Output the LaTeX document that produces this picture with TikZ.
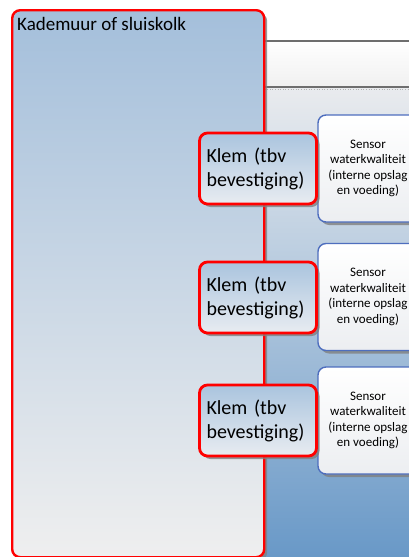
\documentclass[tikz,border=0pt]{standalone}
\usepackage{fontspec}
\setmainfont{Carlito}
\usetikzlibrary{shadows}

\definecolor{kadetop}{RGB}{164,191,219}
\definecolor{kadebot}{RGB}{239,239,239}
\definecolor{watertop}{RGB}{233,235,238}
\definecolor{waterbot}{RGB}{104,152,199}
\definecolor{striplow}{RGB}{240,240,240}
\definecolor{klemtop}{RGB}{170,196,222}
\definecolor{klembot}{RGB}{232,236,241}
\definecolor{sensorline}{RGB}{78,110,190}
\definecolor{sensorbot}{RGB}{236,238,241}
\definecolor{rimgray}{RGB}{110,110,110}
\definecolor{shadowgray}{RGB}{128,128,128}

\tikzset{
  boxshadow/.style={general shadow={fill=shadowgray, opacity=0.8,
      shadow xshift=3pt, shadow yshift=-3pt}},
  kadebox/.style={draw=red, line width=2.4pt, rounded corners=8pt,
      top color=kadetop, bottom color=kadebot, boxshadow,
      minimum width=252pt, minimum height=547pt, inner sep=0pt},
  klembox/.style={draw=red, line width=2.8pt, rounded corners=8pt,
      top color=klemtop, bottom color=klembot, boxshadow,
      text width=103pt, inner xsep=7pt, inner ysep=0pt,
      minimum height=71pt, align=left,
      font=\fontsize{20}{24}\selectfont},
  sensorbox/.style={draw=sensorline, line width=1.4pt, rounded corners=8pt,
      top color=white, bottom color=sensorbot, boxshadow,
      minimum width=100pt, minimum height=107pt, align=center,
      inner sep=0pt, font=\fontsize{13}{15.5}\selectfont},
  rimline/.style={draw=rimgray, line width=1.2pt},
}

\begin{document}
\begin{tikzpicture}[x=1pt, y=-1pt]
\useasboundingbox (0,0) rectangle (409,557);
\clip (0,0) rectangle (409,557);

% water panel to the right of the quay wall
\path[top color=watertop, bottom color=waterbot] (262,88) rectangle (420,560);
\path[top color=white, bottom color=striplow] (262,41) rectangle (420,87);
\draw[rimline] (262,41) -- (420,41);
\draw[rimline] (262,87) -- (420,87);
\draw[gray!60, line width=0.6pt, dotted] (262,89.5) -- (420,89.5);

% quay wall / lock chamber
\node[kadebox, anchor=north west] (kade) at (11,9) {};
\node[anchor=base west, inner sep=0pt, font=\fontsize{19}{23}\selectfont]
  (kadetitle) at (17,30) {Kademuur of sluiskolk};

% sensors
\node[sensorbox] (sensor1) at (368,168.5) {Sensor\\waterkwaliteit\\(interne opslag\\en voeding)};
\node[sensorbox] (sensor2) at (368,297) {Sensor\\waterkwaliteit\\(interne opslag\\en voeding)};
\node[sensorbox] (sensor3) at (368,420.5) {Sensor\\waterkwaliteit\\(interne opslag\\en voeding)};

% clamps on the wall
\node[klembox] (klem1) at (258,168.5) {Klem (tbv\\bevestiging)};
\node[klembox] (klem2) at (258,297.5) {Klem (tbv\\bevestiging)};
\node[klembox] (klem3) at (258,420.5) {Klem (tbv\\bevestiging)};
\end{tikzpicture}
\end{document}
